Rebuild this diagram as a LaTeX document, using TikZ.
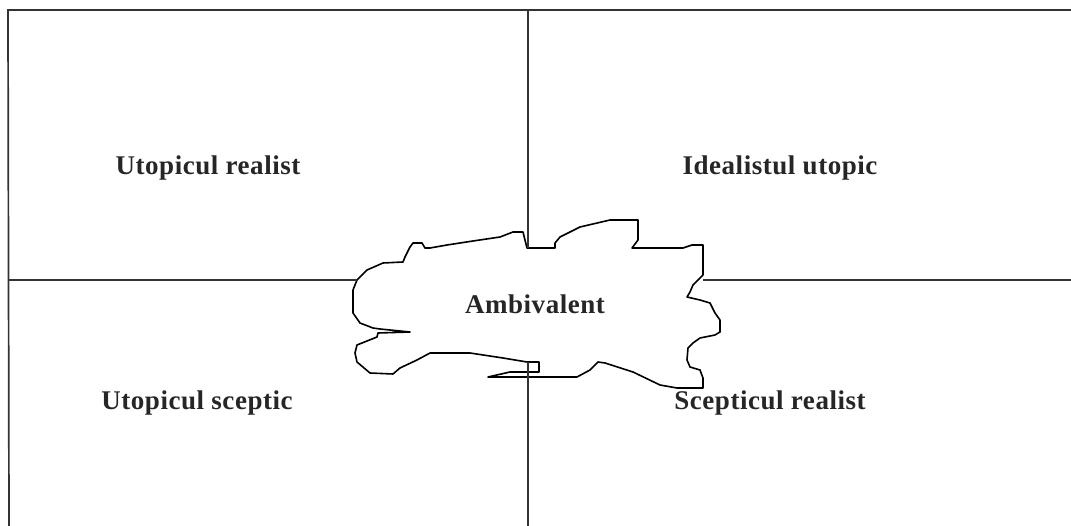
\documentclass[tikz,border=0pt]{standalone}
\usepackage{fontspec}
\setmainfont{Liberation Serif}
\newfontfamily\lblfont[LetterSpace=2]{Liberation Serif}
\begin{document}
\begin{tikzpicture}[x=1pt,y=-1pt,
  frame/.style={draw=black!80,line width=1.7pt},
  blob/.style={draw=black,line width=1.6pt,fill=white,line join=round},
  lbl/.style={font=\lblfont\fontsize{27}{30}\selectfont\bfseries,text=black!85,inner sep=0pt}]
\useasboundingbox[fill=white] (0,0) rectangle (1071,526);
% frame coordinates
\coordinate (tl) at (8,10);
\coordinate (tr) at (1071,10);
\coordinate (bl) at (9,526);
\coordinate (ct) at (528,10);
\coordinate (cb) at (528,526);
\coordinate (bt) at (528,248);
\coordinate (bb) at (528,362);
\coordinate (ml) at (9,280);
\coordinate (bL) at (357,280);
\coordinate (bR) at (703,280);
\coordinate (mr) at (1071,280);
% ambivalent blob
\draw[blob] (357,280) -- (367,270) -- (383,263) -- (403,262) -- (405,257) -- (410,247) -- (413,243) -- (422,243) -- (425,248) -- (430,248) -- (447,245) -- (473,241) -- (500,237) -- (513,232) -- (523,232) -- (527,248) -- (555,248) -- (555,243) -- (560,237) -- (580,227) -- (610,220) -- (638,220) -- (638,240) -- (632,248) -- (683,248) -- (692,245) -- (703,245) -- (703,275) -- (693,285) -- (690,292) -- (687,297) -- (700,300) -- (710,303) -- (715,313) -- (720,320) -- (720,332) -- (715,335) -- (700,338) -- (693,343) -- (688,348) -- (687,360) -- (690,367) -- (700,370) -- (703,378) -- (703,388) -- (677,388) -- (660,385) -- (633,372) -- (605,363) -- (598,362) -- (590,370) -- (577,377) -- (488,377) -- (510,372) -- (539,372) -- (539,362) -- (527,362) -- (503,358) -- (470,353) -- (440,353) -- (430,353) -- (417,360) -- (400,368) -- (393,374) -- (370,373) -- (357,362) -- (355,353) -- (357,345) -- (377,337) -- (378,333) -- (410,332) -- (380,329) -- (373,328) -- (360,323) -- (353,313) -- (353,290) -- cycle;
% frame lines
\draw[frame] (tr) -- (tl) -- (bl);
\draw[frame] (ct) -- (bt);
\draw[frame] (bb) -- (cb);
\draw[frame] (ml) -- (bL);
\draw[frame] (bR) -- (mr);
% labels
\node[lbl] (ur) at (208,168) {Utopicul realist};
\node[lbl] (iu) at (780,168) {Idealistul utopic};
\node[lbl] (am) at (535,304) {Ambivalent};
\node[lbl] (us) at (197,403) {Utopicul sceptic};
\node[lbl] (sr) at (770,403) {Scepticul realist};
\end{tikzpicture}
\end{document}
